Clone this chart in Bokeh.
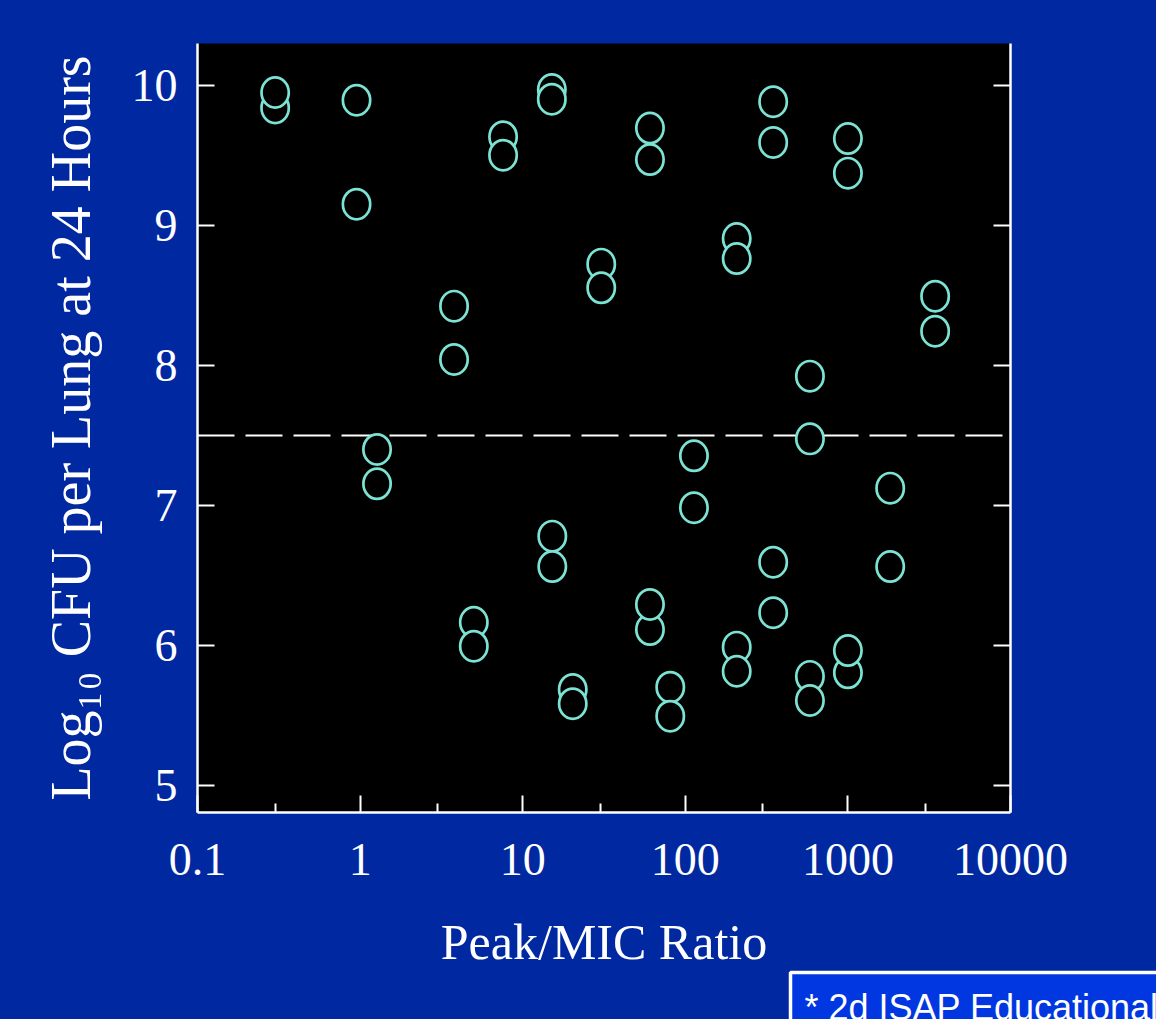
from bokeh.plotting import figure
from bokeh.models import (Range1d, FixedTicker, LinearAxis, Span, Title,
                          ColumnDataSource, GlobalInlineStyleSheet)
from bokeh.embed import file_html
from bokeh.resources import INLINE

# ---- data (Peak/MIC ratio vs log10 CFU per lung at 24 h) ----
peak_mic = [0.3, 0.3, 0.95, 0.95, 1.27, 1.27, 3.78, 3.78, 5.0, 5.0,
            7.57, 7.57, 15.1, 15.1, 15.2, 15.2, 20.3, 20.3, 30.4, 30.4,
            60.6, 60.6, 60.6, 60.6, 80.8, 80.8, 113, 113, 207, 207,
            207, 207, 347, 347, 347, 347, 584, 584, 584, 584,
            1000, 1000, 1000, 1000, 1820, 1820, 3440, 3440]
log_cfu = [9.84, 9.95, 9.895, 9.152, 7.40, 7.155, 8.424, 8.043, 6.166, 5.995,
           9.634, 9.502, 9.971, 9.902, 6.781, 6.564, 5.686, 5.584, 8.724, 8.555,
           9.696, 9.471, 6.114, 6.293, 5.702, 5.495, 7.355, 6.984, 8.907, 8.764,
           5.988, 5.816, 9.884, 9.593, 6.595, 6.234, 7.924, 7.476, 5.779, 5.607,
           9.621, 9.374, 5.805, 5.964, 7.124, 6.564, 8.495, 8.245]

x_ticks = [0.1, 1, 10, 100, 1000, 10000]
x_tick_labels = ["0.1", "1", "10", "100", "1000", "10000"]
x_minor_ticks = [0.3, 3, 30, 300, 3000]
y_ticks = [5, 6, 7, 8, 9, 10]
threshold = 7.5

x_title = "Peak/MIC Ratio"
y_title = "Log\u2081\u2080 CFU per Lung at 24 Hours"
note_text = "* 2d ISAP Educational"

BLUE = "#0028A0"
CYAN = "#7CE3D4"
SERIF = "Liberation Serif"

p = figure(x_axis_type="log",
           x_range=Range1d(0.0999, 10001), y_range=Range1d(4.807, 10.3),
           frame_width=813, frame_height=769,
           min_border_left=197, min_border_right=146,
           min_border_top=43, min_border_bottom=207,
           output_backend="svg", toolbar_location=None,
           background_fill_color="black", border_fill_color=BLUE,
           outline_line_color=None)
p.stylesheets = [GlobalInlineStyleSheet(
    css="html, body { background-color: %s; overflow: hidden; }" % BLUE)]
p.grid.visible = False

# bottom axis
xa = p.xaxis[0]
xa.ticker = FixedTicker(ticks=x_ticks, minor_ticks=x_minor_ticks)
xa.major_label_overrides = {t: l for t, l in zip(x_ticks, x_tick_labels)}
xa.axis_label = x_title

# left axis
ya = p.yaxis[0]
ya.ticker = FixedTicker(ticks=y_ticks)
ya.axis_label = y_title

for ax in (xa, ya):
    ax.axis_line_color = "white"
    ax.axis_line_width = 2.5
    ax.major_tick_line_color = "white"
    ax.major_tick_line_width = 2
    ax.major_tick_in = 17
    ax.major_tick_out = 0
    ax.minor_tick_line_color = "white"
    ax.minor_tick_line_width = 2
    ax.minor_tick_in = 9
    ax.minor_tick_out = 0
    ax.major_label_text_color = "white"
    ax.major_label_text_font = SERIF
    ax.major_label_text_font_size = "46px"
    ax.axis_label_text_color = "white"
    ax.axis_label_text_font = SERIF
    ax.axis_label_text_font_style = "normal"

ya.minor_tick_line_color = None
ya.major_label_standoff = 20
ya.axis_label_standoff = 27
ya.axis_label_text_font_size = "56px"
xa.major_label_standoff = 31
xa.axis_label_standoff = 36
xa.axis_label_text_font_size = "50px"

# right axis: ticks only
ra = LinearAxis(ticker=FixedTicker(ticks=y_ticks),
                axis_line_color="white", axis_line_width=2.5,
                major_tick_line_color="white", major_tick_line_width=2,
                major_tick_in=17, major_tick_out=0,
                minor_tick_line_color=None,
                major_label_text_color=None, major_label_text_font_size="1px")
p.add_layout(ra, "right")

# dashed threshold line (under the markers)
p.add_layout(Span(location=threshold, dimension="width", line_color="white",
                  line_width=2, line_dash="37 11", level="underlay"))

src = ColumnDataSource(dict(x=peak_mic, y=log_cfu))
p.ellipse(x="x", y="y", width=27.3, height=30.3,
          width_units="screen", height_units="screen",
          source=src, fill_color="black", line_color=CYAN, line_width=2.7)

# footnote box in the bottom panel (side-panel annotations are not clipped)
note = Title(text=note_text, align="left", vertical_align="top", offset=593,
             standoff=0, text_font="Liberation Sans", text_font_size="36px",
             text_font_style="normal", text_color="white",
             background_fill_color="#0037E0", border_line_color="white",
             border_line_width=3.5, padding=14)
p.add_layout(note, "below")

open("out.html", "w").write(file_html(p, INLINE))
